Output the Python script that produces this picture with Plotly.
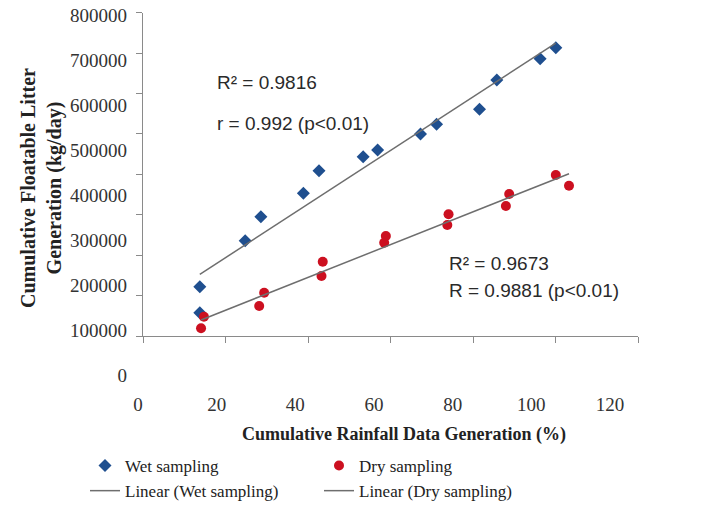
import numpy as np
import plotly.graph_objects as go

# ---- data ----
wet_x = [13.7, 13.7, 24.7, 28.5, 38.8, 42.6, 53.3, 56.8, 67.2, 71.1, 81.5, 85.7, 96.2, 100.0]
wet_y = [122000, 57700, 235900, 295300, 353000, 409100, 443800, 460300, 499900, 523800,
         560900, 633500, 686200, 713500]
dry_x = [14.0, 14.7, 28.1, 29.3, 43.2, 43.5, 58.4, 58.8, 73.7, 74.0, 87.9, 88.7, 100.0, 103.2]
dry_y = [19000, 47800, 74200, 107200, 148500, 183900, 230900, 247500, 274700, 301100,
         321700, 351400, 398400, 372000]

x_ticks = [0, 20, 40, 60, 80, 100, 120]
y_ticks = [0, 100000, 200000, 300000, 400000, 500000, 600000, 700000, 800000]

wet_stats = ["R² = 0.9816", "r = 0.992 (p<0.01)"]
dry_stats = ["R² = 0.9673", "R = 0.9881 (p<0.01)"]

# ---- linear fits ----
def fit(xs, ys):
    a, b = np.polyfit(xs, ys, 1)
    xl = [min(xs), max(xs)]
    return xl, [a * v + b for v in xl]

wfx, wfy = fit(wet_x, wet_y)
dfx, dfy = fit(dry_x, dry_y)

W, H = 719, 515
ml, mr, mt, mb = 125, 79, 12, 115
pw = W - ml - mr
ph = H - mt - mb

def px(X):
    return (X - ml) / pw

def py(Y):
    return (H - mb - Y) / ph

serif = "Liberation Serif, Times New Roman, serif"
sans = "Liberation Sans, Arial, sans-serif"
axis_gray = "#8a8a8a"

fig = go.Figure()
# carrier for the label axes
fig.add_trace(go.Scatter(x=[0], y=[0], xaxis="x2", yaxis="y2", showlegend=False,
                         mode="markers", marker=dict(opacity=0), hoverinfo="skip"))
fig.add_trace(go.Scatter(x=wet_x, y=wet_y, mode="markers", name="Wet sampling",
                         marker=dict(symbol="diamond", size=10, color="#1f4f8f")))
fig.add_trace(go.Scatter(x=dry_x, y=dry_y, mode="markers", name="Dry sampling",
                         marker=dict(symbol="circle", size=10, color="#cc1020")))
fig.add_trace(go.Scatter(x=wfx, y=wfy, mode="lines", name="Linear (Wet sampling)",
                         line=dict(color="#6e6e6e", width=1.5)))
fig.add_trace(go.Scatter(x=dfx, y=dfy, mode="lines", name="Linear (Dry sampling)",
                         line=dict(color="#6e6e6e", width=1.5)))

fig.update_layout(
    width=W, height=H,
    margin=dict(l=ml, r=mr, t=mt, b=mb, autoexpand=False),
    paper_bgcolor="white", plot_bgcolor="rgba(0,0,0,0)",
    xaxis=dict(domain=[px(143.3), px(638.3)], range=[0, 120], tickvals=x_ticks,
               showticklabels=False, showline=True, linecolor=axis_gray, linewidth=1,
               ticks="outside", ticklen=6, tickcolor=axis_gray, showgrid=False,
               zeroline=False, anchor="y"),
    yaxis=dict(domain=[py(336), py(12.7)], range=[0, 800000], tickvals=y_ticks,
               showticklabels=False, showline=True, linecolor=axis_gray, linewidth=1,
               ticks="outside", ticklen=6, tickcolor=axis_gray, showgrid=False,
               zeroline=False, anchor="x"),
    xaxis2=dict(domain=[px(138), px(610)], range=[0, 120], tickvals=x_ticks,
                ticktext=[str(v) for v in x_ticks], showline=False, ticks="",
                showgrid=False, zeroline=False, anchor="y2", ticklabelstandoff=16,
                tickfont=dict(family=serif, size=19, color="#333333")),
    yaxis2=dict(domain=[py(375), py(15)], range=[0, 800000], tickvals=y_ticks,
                ticktext=[str(v) for v in y_ticks], showline=False, ticks="",
                showgrid=False, zeroline=False, anchor="x2", ticklabelstandoff=10,
                tickfont=dict(family=serif, size=19, color="#333333")),
    showlegend=True,
    legend=dict(orientation="h", x=px(85), xanchor="left", y=py(448), yanchor="top",
                entrywidth=189, entrywidthmode="pixels",
                font=dict(family=serif, size=17, color="#222222"),
                bgcolor="rgba(0,0,0,0)"),
)

annots = [
    dict(text=wet_stats[0], x=px(215), y=py(82)),
    dict(text=wet_stats[1], x=px(215), y=py(123)),
    dict(text=dry_stats[0], x=px(447), y=py(263)),
    dict(text=dry_stats[1], x=px(447), y=py(290)),
]
for a in annots:
    fig.add_annotation(xref="paper", yref="paper", x=a["x"], y=a["y"], text=a["text"],
                       showarrow=False, xanchor="left", yanchor="middle",
                       font=dict(family=sans, size=19, color="#2a2a2a"))

fig.add_annotation(xref="paper", yref="paper", x=px(404), y=py(435),
                   text="<b>Cumulative Rainfall Data Generation (%)</b>", showarrow=False,
                   xanchor="center", yanchor="middle",
                   font=dict(family=serif, size=18, color="#222222"))
fig.add_annotation(xref="paper", yref="paper", x=px(41), y=py(188),
                   text="<b>Cumulative Floatable Litter<br>Generation (kg/day)</b>",
                   showarrow=False, textangle=-90, xanchor="center", yanchor="middle",
                   font=dict(family=serif, size=20, color="#222222"))

fig.write_html("out.html", config={"displayModeBar": False},
               post_script="document.body.style.margin='0';document.body.style.padding='0';")
